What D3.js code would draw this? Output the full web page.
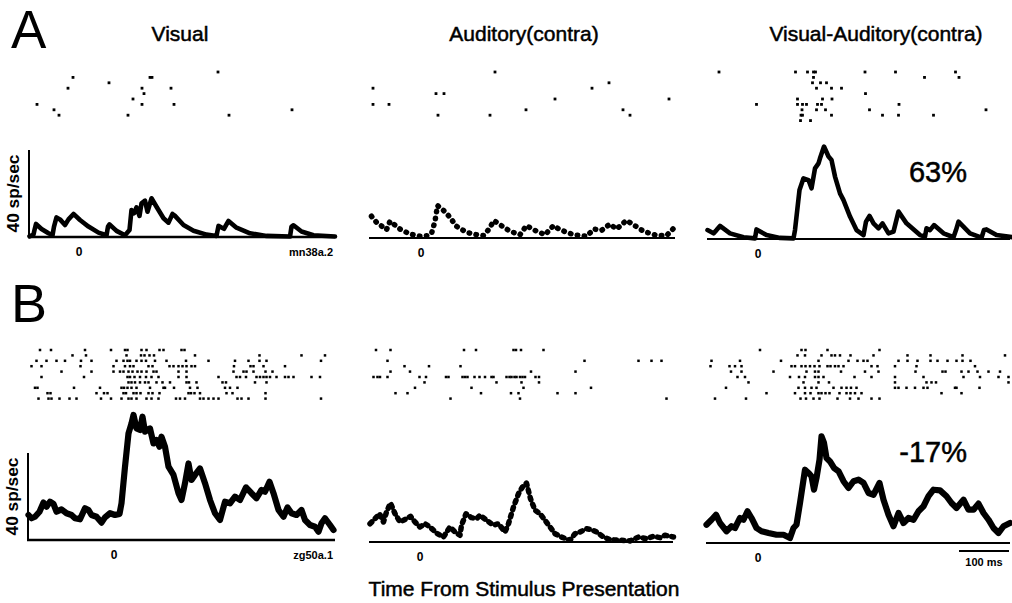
<!DOCTYPE html>
<html>
<head>
<meta charset="utf-8">
<script src="https://cdn.jsdelivr.net/npm/d3@7.9.0/dist/d3.min.js"></script>
<style>
  body { margin: 0; background: #fff; }
  svg { display: block; }
  text { font-family: "Liberation Sans", Arial, sans-serif; fill: #000; }
  .heavy { stroke: #000; stroke-width: 0.5px; }
</style>
</head>
<body>
<svg id="chart" width="1012" height="603"></svg>
<script>
// ---- data: PSTH traces [ms, sp/sec] ----
const aVisualRate = [[-99,0.3],[-91,1.1],[-89,3.2],[-86,6.0],[-75,3.7],[-61,1.7],[-53,0.8],[-50,4.8],[-45,9.0],[-38,8.1],[-28,5.5],[-21,8.1],[-11,10.6],[2,7.8],[19,4.8],[39,2.0],[55,0.8],[58,4.8],[61,5.8],[75,2.8],[92,0.8],[101,3.2],[105,12.4],[110,10.9],[115,13.6],[121,9.7],[125,15.5],[132,16.7],[137,11.6],[145,17.8],[155,13.9],[169,8.6],[179,6.6],[187,10.6],[192,9.7],[209,5.5],[229,2.9],[255,1.1],[275,0.5],[279,5.1],[285,4.4],[290,3.8],[299,7.4],[315,4.3],[342,1.7],[375,0.5],[422,0.2],[425,4.8],[429,5.4],[445,2.5],[469,0.8],[512,0.2]];
const aAudRate = [[-99,10.0],[-89,7.2],[-69,3.8],[-62,7.7],[-42,4.1],[-22,1.8],[-2,0.8],[13,1.1],[21,2.0],[28,7.7],[33,14.9],[45,12.7],[55,10.3],[71,5.4],[91,2.6],[111,1.5],[125,1.1],[135,3.8],[146,8.0],[158,6.1],[178,3.1],[198,1.5],[211,5.7],[225,3.8],[248,1.5],[265,5.7],[278,3.8],[305,1.5],[331,0.8],[346,4.1],[361,3.5],[378,6.4],[391,4.1],[411,8.1],[425,6.1],[445,3.1],[471,1.2],[491,1.1],[505,4.4]];
const aBothRate = [[-101,4.1],[-89,2.6],[-83,4.1],[-76,6.0],[-56,2.6],[-29,0.8],[-6,0.3],[-3,4.4],[17,1.8],[44,0.5],[71,0.3],[74,4.1],[83,22.5],[91,27.9],[101,27.1],[107,23.3],[114,32.5],[121,34.8],[124,37.1],[132,42.5],[141,37.9],[147,36.3],[154,28.7],[164,21.0],[171,17.9],[184,10.3],[197,4.1],[211,1.8],[216,8.0],[223,10.6],[231,7.2],[241,4.9],[249,7.2],[261,2.6],[271,3.4],[281,12.6],[297,7.2],[324,1.8],[334,1.1],[337,4.9],[344,4.1],[352,6.4],[371,2.6],[391,0.8],[396,4.1],[401,8.0],[424,2.6],[447,0.6],[452,4.1],[457,4.4],[477,1.8],[511,0.8]];
const bVisualRate = [[-171,11.5],[-165,10.0],[-158,10.7],[-149,13.0],[-141,17.2],[-135,15.3],[-128,17.6],[-121,16.6],[-115,13.0],[-105,14.1],[-95,12.3],[-85,11.5],[-78,10.0],[-68,9.5],[-58,14.6],[-51,13.8],[-45,11.5],[-35,10.7],[-25,8.0],[-18,10.4],[-8,12.3],[2,11.5],[11,12.0],[15,16.9],[22,33.7],[29,49.0],[35,53.6],[39,57.5],[45,51.3],[52,50.6],[57,56.7],[62,49.8],[72,51.3],[79,44.4],[85,46.0],[91,42.9],[95,47.5],[102,42.9],[109,33.7],[119,29.9],[129,21.5],[135,18.4],[142,26.1],[149,35.2],[155,27.6],[162,29.9],[172,32.9],[182,26.1],[192,18.4],[202,12.3],[212,9.2],[222,17.6],[232,16.9],[242,19.9],[252,18.4],[264,24.2],[275,21.5],[285,19.2],[295,23.0],[302,22.2],[311,26.8],[319,21.5],[329,13.8],[339,10.7],[347,15.0],[355,12.3],[365,11.5],[375,13.8],[382,9.2],[392,6.9],[402,6.1],[409,3.8],[415,7.7],[422,10.0],[432,6.9],[439,4.6]];
const bAudRate = [[-100,8.4],[-90,10.7],[-81,13.0],[-73,9.2],[-67,13.8],[-59,17.9],[-50,13.0],[-40,9.2],[-27,10.7],[-19,11.8],[-10,9.2],[0,6.9],[10,8.4],[20,6.9],[33,4.1],[47,2.3],[60,6.9],[70,4.6],[80,3.1],[83,7.7],[92,13.0],[103,11.2],[113,10.7],[120,12.3],[133,10.0],[147,7.7],[157,8.4],[170,4.6],[177,8.4],[187,16.1],[197,22.2],[205,25.3],[213,27.1],[221,19.9],[230,14.6],[240,13.0],[250,10.0],[260,6.9],[270,3.8],[283,2.3],[300,0.8],[310,3.8],[320,4.6],[333,6.1],[343,5.7],[353,4.6],[367,2.3],[380,1.1],[400,0.8],[420,0.5],[437,2.3],[453,1.5],[467,2.6],[480,2.0],[490,3.1],[507,2.3]];
const bBothRate = [[-103,8.4],[-93,10.7],[-84,13.0],[-76,9.2],[-63,5.4],[-53,7.7],[-46,6.9],[-36,11.5],[-29,10.7],[-21,14.6],[-13,11.5],[-3,6.9],[7,5.4],[21,4.6],[37,3.8],[51,3.8],[64,2.3],[71,6.9],[77,8.4],[84,18.4],[94,33.7],[101,32.2],[107,30.7],[112,24.5],[117,29.9],[123,38.3],[127,49.0],[132,46.0],[137,39.1],[144,37.5],[152,34.5],[161,33.0],[171,28.4],[181,25.3],[191,28.4],[201,29.1],[211,27.6],[221,23.0],[231,22.2],[243,27.6],[251,19.9],[261,13.0],[271,7.7],[281,13.8],[291,9.2],[301,11.5],[311,10.7],[321,14.6],[331,16.9],[341,21.5],[351,24.5],[364,24.2],[377,21.5],[387,18.4],[397,16.1],[411,19.9],[421,15.3],[431,15.3],[441,18.1],[451,13.8],[461,10.7],[471,6.9],[481,4.6],[491,7.7],[504,9.2]];

// ---- data: rasters, spike times (ms) per trial ----
const aVisualTrials = [[278],[-12,142,146],[60],[-22,126,184],[130],[108],[-84,126,190],[-50,426],[-40,98,300]];
const aAudTrials = [[148],[],[376],[-96,342],[30,46],[268,496],[-96,-64],[210,404],[34,138,418]];
const aBothTrials = [[-78,75,99,111,115,214,275,395],[111,333,402],[109,125,137],[117,147,167],[215],[79,129,148],[-3,79,89,97,119,127,282],[88,117,135,223,456],[86,89,147,249,281,351],[85,105]];
const bVisualTrials = [
  [-148,-126,-58,-6,22,27,55,65,91,99,135,141],
  [-83,-56,25,54,61,71,80,162,291,375,422],
  [-155,-135,-115,-98,-66,-45,5,19,27,32,45,55,64,82,105,144,189,242,269,291,305,414],
  [-165,-145,-67,-1,22,32,39,69,77,111,119,129,137,145,155,162,240,273,279,299,342],
  [-105,-45,-1,12,19,29,37,47,55,65,79,85,129,145,239,259,265,279,303,317],
  [-145,-60,27,32,41,52,64,75,89,129,145,209,245,252,264,285,292,299,305,312,325,342,349,359,395,412],
  [29,35,42,52,62,69,85,97,112,145,150,165,217,224,282,305],
  [-158,-153,-80,-28,15,20,27,35,45,72,99,102,120,152,167,222,232,247],
  [-133,-127,-35,-20,-13,19,24,39,45,53,69,77,91,149,154,161,172,225,237,303],
  [-151,-131,-125,-109,-89,-75,-26,-6,15,29,35,45,65,75,89,124,132,142,172,179,189,199,209,247,255,269,303,414]
];
const bAudTrials = [
  [-88,-59,88,112,187,192,202,247],
  [],
  [-65,329,437,463,483],
  [-31,18,81],
  [-59,-20,222,311],
  [-93,-85,-80,-65,-1,12,52,57,85,90,95,109,119,130,143,147,173,179,183,189,193,200,205,210,231,238],
  [9,153,203,238],
  [-10,103,207,342],
  [-49,-25,122,182,197,275,311],
  [61,200,493]
];
const bBothTrials = [
  [4,87,95,139,243],
  [79,94,127,147,154,164,185,231,299,345,409,494],
  [-93,-36,46,121,181,199,211,219,281,299,319,345,359,379,397,409,425],
  [-95,-57,-46,-33,67,74,87,95,104,113,123,139,145,154,161,171,227,239,274,317,434],
  [-54,-33,31,97,114,121,166,214,241,315,369,375,407,421,439,461,484],
  [-41,-26,64,82,94,114,121,131,193,227,274,331,411,444,481,501],
  [-19,91,121,142,274,337,347,356,501],
  [-64,81,94,107,117,151,167,177,186,197,274,281,297,314,331,339,394,397,443],
  [17,74,94,105,121,127,135,143,163,177,185,194,207,367,407],
  [-86,-24,85,96,111,123,159,184,201,227,243]
];

const columnTitles = ["Visual", "Auditory(contra)", "Visual-Auditory(contra)"];
const enhancement = ["63%", "-17%"];
const cellIds = ["mn38a.2", "zg50a.1"];

// ---- layout ----
const svg = d3.select("#chart");
svg.append("rect").attr("width", 1012).attr("height", 603).attr("fill", "#fff");

const panels = [
  { rate: aVisualRate, trials: aVisualTrials, dom: [-102, 512], rng: [28, 335], base: 237, top: 72, kind: "solid", lw: 4.6, dot: 2.8, yBar: true, id: cellIds[0] },
  { rate: aAudRate,    trials: aAudTrials,    dom: [-104, 508], rng: [369, 675], base: 238, top: 72, kind: "dots", lw: 5.5, dot: 2.8 },
  { rate: aBothRate,   trials: aBothTrials,   dom: [-102, 504], rng: [707, 1010], base: 239, top: 72, kind: "solid", lw: 4.6, dot: 2.8, pct: enhancement[0] },
  { rate: bVisualRate, trials: bVisualTrials, dom: [-174, 442], rng: [27, 335], base: 540, top: 350, kind: "solid", lw: 6.2, dot: 2.5, yBar: true, id: cellIds[1] },
  { rate: bAudRate,    trials: bAudTrials,    dom: [-102, 506], rng: [369, 673], base: 542, top: 350, kind: "dashes", lw: 5.5, dot: 2.5 },
  { rate: bBothRate,   trials: bBothTrials,   dom: [-104, 504], rng: [706, 1010], base: 543, top: 350, kind: "solid", lw: 6.2, dot: 2.5, pct: enhancement[1], bar: true }
];

panels.forEach((p, i) => {
  const x = d3.scaleLinear().domain(p.dom).range(p.rng);
  const y = d3.scaleLinear().domain([0, 40]).range([p.base, p.base - 87]);
  const row = d3.scaleLinear().domain([0, 1]).range([p.top, p.top + 5.4]);
  const g = svg.append("g");

  // raster
  p.trials.forEach((spikes, r) => {
    g.selectAll(null).data(spikes).enter().append("rect")
      .attr("x", d => x(d) - p.dot / 2)
      .attr("y", row(r) - p.dot / 2)
      .attr("width", p.dot)
      .attr("height", p.dot)
      .attr("fill", "#000");
  });

  // baseline
  g.append("line")
    .attr("x1", p.rng[0]).attr("x2", p.rng[1])
    .attr("y1", p.base).attr("y2", p.base)
    .attr("stroke", "#000").attr("stroke-width", i % 3 === 0 ? 2.5 : 2);

  // 40 sp/sec bar
  if (p.yBar) {
    g.append("line")
      .attr("x1", p.rng[0] + 1).attr("x2", p.rng[0] + 1)
      .attr("y1", y(0)).attr("y2", y(40))
      .attr("stroke", "#000").attr("stroke-width", 2);
    g.append("text")
      .attr("transform", `translate(${p.rng[0] - 9},${y(20)}) rotate(-90)`)
      .attr("text-anchor", "middle")
      .attr("font-weight", "bold")
      .attr("font-size", 16)
      .attr("textLength", 78)
      .attr("lengthAdjust", "spacingAndGlyphs")
      .text("40 sp/sec");
  }

  // trace
  const line = d3.line().x(d => x(d[0])).y(d => y(d[1]));
  const path = g.append("path")
    .datum(p.rate)
    .attr("d", line)
    .attr("fill", "none")
    .attr("stroke", "#000")
    .attr("stroke-width", p.lw)
    .attr("stroke-linejoin", "round")
    .attr("stroke-linecap", "round");
  if (p.kind === "dots") path.attr("stroke-dasharray", "0.5 6.5");
  if (p.kind === "dashes") path.attr("stroke-dasharray", "2.5 5");

  // 0 tick label
  g.append("text")
    .attr("x", x(0)).attr("y", p.base + 19)
    .attr("text-anchor", "middle")
    .attr("font-weight", "bold")
    .attr("font-size", 12)
    .text("0");

  if (p.id) {
    g.append("text")
      .attr("x", 333).attr("y", p.base + 19)
      .attr("text-anchor", "end")
      .attr("font-weight", "bold")
      .attr("font-size", 11)
      .text(p.id);
  }

  if (p.pct) {
    g.append("text")
      .attr("class", "heavy")
      .attr("x", 967).attr("y", p.base - 57 - (i === 5 ? 24 : 0))
      .attr("text-anchor", "end")
      .attr("font-size", 29)
      .text(p.pct);
  }

  if (p.bar) {
    g.append("line")
      .attr("x1", x(402)).attr("x2", x(502))
      .attr("y1", p.base + 8).attr("y2", p.base + 8)
      .attr("stroke", "#000").attr("stroke-width", 2);
    g.append("text")
      .attr("x", x(452)).attr("y", p.base + 23)
      .attr("text-anchor", "middle")
      .attr("font-weight", "bold")
      .attr("font-size", 11)
      .text("100 ms");
  }
});

// column titles
const titleX = [180, 524, 876];
svg.selectAll(".title").data(columnTitles).enter().append("text")
  .attr("class", "title heavy")
  .attr("x", (d, i) => titleX[i])
  .attr("y", 41)
  .attr("text-anchor", "middle")
  .attr("font-size", 21)
  .text(d => d);

// panel letters
svg.append("text").attr("x", 11).attr("y", 48).attr("font-size", 53).text("A");
svg.append("text").attr("x", 11).attr("y", 322).attr("font-size", 54).text("B");

svg.append("text")
  .attr("class", "heavy")
  .attr("x", 524).attr("y", 596)
  .attr("text-anchor", "middle")
  .attr("font-size", 21)
  .text("Time From Stimulus Presentation");
</script>
</body>
</html>
